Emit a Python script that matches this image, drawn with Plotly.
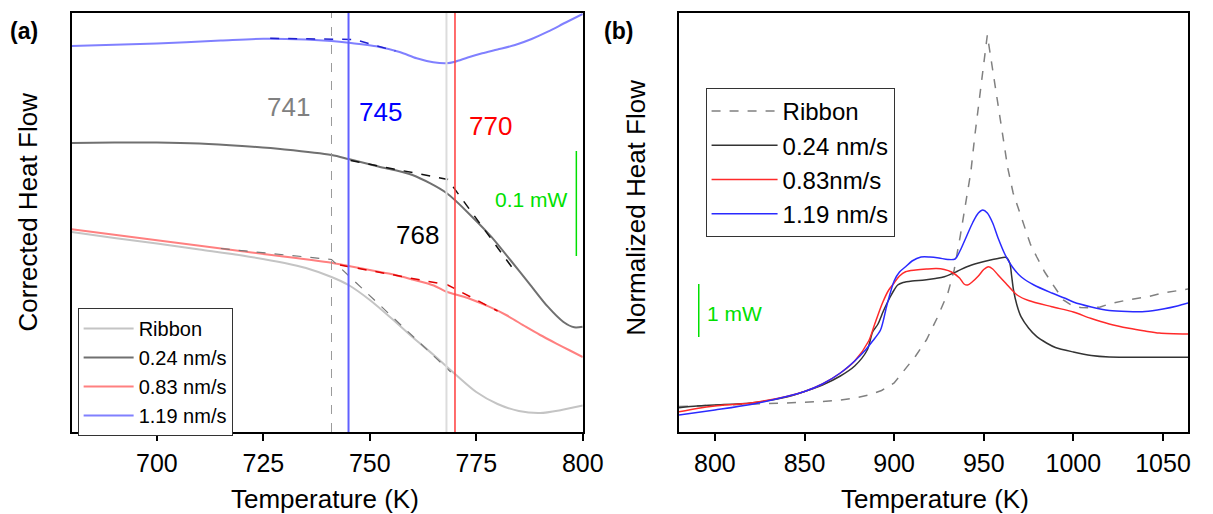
import plotly.graph_objects as go

# ---------------- Panel (a): Corrected heat flow (arbitrary units) ----------------
T_ribbon_a = [680, 690, 700, 710, 720, 730, 735, 741, 745, 750, 755, 760, 765, 770, 775, 780, 785, 790, 795, 800]
hf_ribbon_a = [200, 194, 188.5, 182.5, 176.5, 169, 164, 155, 147, 132, 114, 95, 77, 58, 40, 28, 21, 19, 22, 26.4]

T_024_a = [680, 690, 700, 710, 720, 730, 741, 745, 752, 760, 768, 774, 778.5, 783, 787.4, 791.8, 795.4, 798, 800]
hf_024_a = [289, 289.5, 289.5, 288.5, 286, 282.5, 277, 273, 265.5, 257, 239, 215.3, 195.3, 172, 148.7, 125.3, 110.3, 104.7, 105.3]

T_083_a = [680, 700, 720, 741, 745, 750, 755, 760, 765, 768, 773, 778, 782, 786.6, 790, 793.7, 797, 800]
hf_083_a = [202.7, 191.7, 180.7, 169.3, 166, 162, 158, 152.5, 146.5, 140.3, 134, 125.3, 117, 105.3, 97, 88.7, 81.5, 75]

T_119_a = [680, 700, 715, 725, 735, 741, 745, 752, 757, 761, 764.9, 768, 770, 773, 776.4, 780, 784.1, 788, 791.8, 796, 800]
hf_119_a = [386, 388.5, 391.5, 393.3, 392.5, 391, 389.3, 385.3, 380, 373.7, 369.7, 368.7, 370.3, 374.5, 378.7, 382.5, 387, 393, 400.3, 409.5, 418]

# tangent (onset) constructions
T_tan_119 = [726.6, 746.4, 756]
hf_tan_119 = [393.7, 392.5, 381]
T_tan_024 = [745.5, 768.3, 783.5]
hf_tan_024 = [271.5, 252.5, 164]
T_tan_083 = [743, 768.3, 780]
hf_tan_083 = [167, 147, 121]
T_tan_rib = [715, 741, 769]
hf_tan_rib = [183.5, 172.5, 60]

onset_T = [741, 745, 768, 770]
onset_colors = ["#9a9a9a", "#6060ff", "#dcdcdc", "#ff3c3c"]
onset_dash = ["dash", "solid", "solid", "solid"]
onset_width = [1, 2, 2, 1.5]

onset_labels = ["741", "745", "770", "768"]
onset_label_T = [730.9, 752.5, 778.3, 761.2]
onset_label_hf = [325.3, 320.3, 305.8, 197]
onset_label_colors = ["#808080", "#0000ff", "#ff0000", "#000000"]

scale_a_T = [798.5, 798.5]
scale_a_hf = [176, 281]

# ---------------- Panel (b): Normalized heat flow ----------------
T_ribbon_b = [780, 800, 820, 840, 850, 860, 870, 878, 886, 893, 900, 906, 912, 918, 924, 930, 933.5, 937, 940,
              942.8, 945, 947, 949.5, 952, 955, 958, 961, 963.4, 966.4, 970, 973, 976, 979.6, 984, 988, 994.4,
              998.7, 1004, 1010, 1015, 1020, 1030, 1041.8, 1050, 1064]
py_ribbon_b = [406.5, 405.5, 404, 403, 402.2, 401.5, 400, 398, 395, 390.5, 383, 370, 356, 340, 318, 293, 270, 235, 202,
               172, 136, 107, 71, 35, 70, 105, 140, 168, 193, 212, 230, 244, 257, 272, 283, 300,
               305, 307.5, 308, 307, 304, 300, 296.7, 293, 289]

T_024_b = [780, 790, 800, 820, 840, 850, 860, 870, 878, 885, 888, 891, 894, 897.8, 900, 902, 905, 910, 917, 923,
           928, 935, 940.6, 947, 953.7, 958, 962.3, 964.5, 965.5, 966.6, 968.5, 970.8, 975, 979.6, 985, 990,
           1000, 1010, 1020, 1040, 1064]
py_024_b = [407.7, 406, 405, 403, 397, 391.5, 385, 376, 366, 350, 332, 324, 311, 297, 290, 285, 282.5, 281, 280, 278.5,
            276.7, 271.5, 266.7, 263, 260, 258.5, 257.3, 263, 275, 290, 305, 316.7, 328, 336.7, 343, 347.5,
            352, 355.5, 357, 357.3, 357.3]

T_083_b = [780, 790, 800, 820, 840, 850, 860, 870, 878, 885.8, 889, 893.5, 897, 900, 903, 906.4, 912, 918, 923.6,
           928, 932, 936.5, 939, 941, 943.5, 947, 950, 952.6, 955, 958, 962.3, 968.6, 975, 988, 1000, 1009.6,
           1020, 1031, 1040, 1048, 1064]
py_083_b = [411.8, 408.5, 406, 403, 396.5, 391.5, 384, 373, 361, 341, 325, 303, 290, 283, 276, 271.7, 270, 269, 268.5,
            269.5, 272, 278, 284, 285, 282, 276, 269.5, 266.7, 269, 275, 283.3, 295, 300.5, 306.7, 312, 318.3,
            324, 328.3, 331, 333, 334]

T_119_b = [780, 800, 820, 840, 850, 860, 870, 878, 884, 888, 892.4, 896, 900, 903, 906.4, 910, 915, 920, 925, 930,
           934, 937, 940, 944, 947, 949.5, 952, 955, 958, 962, 966, 971, 978, 988, 995, 1000, 1010, 1020, 1030,
           1040, 1050, 1058, 1064]
py_119_b = [415, 410, 404.5, 396.5, 391.5, 384, 373, 361, 350, 341, 330, 305, 281, 272, 266.7, 261, 257, 257, 258, 259.5,
            259, 250, 238, 222, 213, 210, 213, 223, 238, 255, 267, 277, 285, 293, 298, 302, 307, 310.5, 311.5,
            311.5, 309, 306, 303]

scale_b_T = [791, 791]
scale_b_hf = [95, 148]

BASE = 432  # baseline used to convert the read heights
hf_ribbon_b = [BASE - v for v in py_ribbon_b]
hf_024_b = [BASE - v for v in py_024_b]
hf_083_b = [BASE - v for v in py_083_b]
hf_119_b = [BASE - v for v in py_119_b]

FONT = "Liberation Sans, Arial, sans-serif"
W, H = 1213, 514

fig = go.Figure()

def add(x, y, color, width=2, dash="solid", name=None, xa="x", ya="y", legend="legend", shape="spline", show=False):
    fig.add_trace(go.Scatter(
        x=x, y=y, mode="lines", name=name, showlegend=show, legend=legend,
        line=dict(color=color, width=width, dash=dash, shape=shape, smoothing=0.8 if shape == "spline" else None),
        xaxis=xa, yaxis=ya, hoverinfo="skip"))

# panel (a) curves
add(T_ribbon_a, hf_ribbon_a, "#c4c4c4", 2, name="Ribbon", show=True)
add(T_024_a, hf_024_a, "#707070", 2, name="0.24 nm/s", show=True)
add(T_083_a, hf_083_a, "#ff8080", 2, name="0.83 nm/s", show=True)
add(T_119_a, hf_119_a, "#8080ff", 2, name="1.19 nm/s", show=True)
add(T_tan_119, hf_tan_119, "#2020d0", 1.5, dash="dash", shape="linear")
add(T_tan_024, hf_tan_024, "#111111", 1.5, dash="dash", shape="linear")
add(T_tan_083, hf_tan_083, "#e00000", 1.5, dash="dash", shape="linear")
add(T_tan_rib, hf_tan_rib, "#777777", 1.2, dash="dash", shape="linear")
add(scale_a_T, scale_a_hf, "#00e000", 1.5, shape="linear")

for t, c, d, w in zip(onset_T, onset_colors, onset_dash, onset_width):
    fig.add_shape(type="line", xref="x", yref="y domain", x0=t, x1=t, y0=0, y1=1,
                  line=dict(color=c, width=w, dash=d), layer="above")

# panel (b) curves
add(T_ribbon_b, hf_ribbon_b, "#808080", 1.5, dash="dash", name="Ribbon", xa="x2", ya="y2", legend="legend2",
    shape="linear", show=True)
add(T_024_b, hf_024_b, "#333333", 1.5, name="0.24 nm/s", xa="x2", ya="y2", legend="legend2", show=True)
add(T_083_b, hf_083_b, "#ff2a2a", 1.5, name="0.83nm/s", xa="x2", ya="y2", legend="legend2", show=True)
add(T_119_b, hf_119_b, "#2a2aff", 1.5, name="1.19 nm/s", xa="x2", ya="y2", legend="legend2", show=True)
add(scale_b_T, scale_b_hf, "#00e000", 1.5, xa="x2", ya="y2", shape="linear")

annotations = []
for txt, t, v, c in zip(onset_labels, onset_label_T, onset_label_hf, onset_label_colors):
    annotations.append(dict(text=txt, x=t, y=v, xref="x", yref="y", showarrow=False,
                            xanchor="center", yanchor="middle",
                            font=dict(family=FONT, size=26, color=c)))
annotations.append(dict(text="0.1 mW", x=787.9, y=233, xref="x", yref="y", showarrow=False,
                        xanchor="center", yanchor="middle",
                        font=dict(family=FONT, size=21, color="#00e000")))
annotations.append(dict(text="1 mW", x=810.7, y=119, xref="x2", yref="y2", showarrow=False,
                        xanchor="center", yanchor="middle",
                        font=dict(family=FONT, size=21, color="#00e000")))

def px_x(p):
    return p / W

def px_y(p):
    return 1 - p / H

def paper_text(text, x, y, size, angle=0):
    return dict(text=text, x=px_x(x), y=px_y(y), xref="paper", yref="paper", showarrow=False,
                xanchor="center", yanchor="middle", textangle=angle,
                font=dict(family=FONT, size=size, color="black"))

annotations += [
    paper_text("<b>(a)</b>", 24, 31, 23),
    paper_text("<b>(b)</b>", 629, 31, 23),
    paper_text("Temperature (K)", 331, 499, 26),
    paper_text("Temperature (K)", 951, 499, 26),
    paper_text("Corrected Heat Flow", 28, 212, 26, -90),
    paper_text("Normalized Heat Flow", 647, 208, 26, -90),
]

ydom = [px_y(432), px_y(13)]
axis_common = dict(showline=True, linecolor="black", linewidth=1.5, mirror=True, showgrid=False, zeroline=False)

fig.update_layout(
    width=W, height=H, margin=dict(l=0, r=0, t=0, b=0),
    paper_bgcolor="white", plot_bgcolor="white",
    font=dict(family=FONT, color="black"),
    xaxis=dict(domain=[px_x(73), px_x(593)], range=[680, 800], tickvals=[700, 725, 750, 775, 800],
               ticks="outside", ticklen=7, tickwidth=1.5, tickcolor="black", ticklabelstandoff=1,
               tickfont=dict(family=FONT, size=25), anchor="y", **axis_common),
    yaxis=dict(domain=ydom, range=[0, 419], showticklabels=False, ticks="", anchor="x", **axis_common),
    xaxis2=dict(domain=[px_x(691), px_x(1209)], range=[780, 1064], tickvals=[800, 850, 900, 950, 1000, 1050],
                ticks="outside", ticklen=7, tickwidth=1.5, tickcolor="black", ticklabelstandoff=1,
                tickfont=dict(family=FONT, size=25), anchor="y2", **axis_common),
    yaxis2=dict(domain=ydom, range=[0, 419], showticklabels=False, ticks="", anchor="x2", **axis_common),
    legend=dict(x=px_x(79), y=px_y(308), xanchor="left", yanchor="top", bgcolor="white",
                bordercolor="#333333", borderwidth=1, font=dict(family=FONT, size=20), tracegroupgap=0,
                itemwidth=50),
    legend2=dict(x=px_x(718), y=px_y(88), xanchor="left", yanchor="top", bgcolor="white",
                 bordercolor="#333333", borderwidth=1, font=dict(family=FONT, size=24), tracegroupgap=0,
                 itemwidth=66),
    annotations=annotations,
    showlegend=True,
)

fig.write_html("out.html")
